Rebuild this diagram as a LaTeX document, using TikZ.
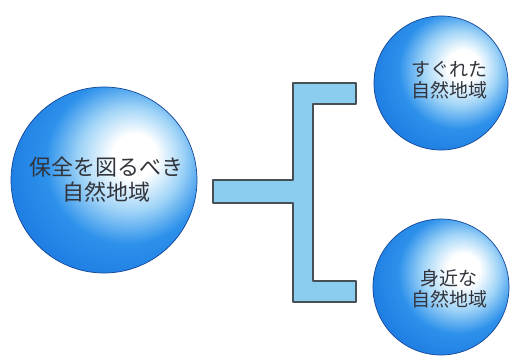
\documentclass[tikz,border=0pt]{standalone}
\usepackage{fontspec}
\newfontfamily\jpfont{Noto Sans CJK JP}
\definecolor{orblight}{RGB}{160,212,247}
\definecolor{orbblue}{RGB}{45,145,235}
\definecolor{orbmid}{RGB}{22,115,222}
\definecolor{orbdark}{RGB}{12,86,198}
\definecolor{orbrim}{RGB}{20,70,150}
\definecolor{barblue}{RGB}{138,205,238}
\definecolor{barline}{RGB}{70,80,85}
\definecolor{txtgray}{RGB}{50,52,60}
\pgfdeclareradialshading{orb}{\pgfpoint{9bp}{7bp}}{color(0bp)=(white); color(6bp)=(white); color(14bp)=(orblight); color(22bp)=(orbblue); color(36bp)=(orbmid); color(55bp)=(orbdark); color(70bp)=(orbdark)}
\begin{document}
\begin{tikzpicture}[x=1pt, y=-1pt, line join=round,
	orb/.style={circle, inner sep=0pt, shading=orb, draw=orbrim, line width=0.7pt},
	bigtxt/.style={align=center, text=txtgray, font=\jpfont\fontsize{22}{25}\selectfont},
	smalltxt/.style={align=center, text=txtgray, font=\jpfont\fontsize{19}{21}\selectfont}]
	\useasboundingbox (0,0) rectangle (510,358);
	\node[orb, minimum size=186pt] (big) at (104,180) {};
	\node[orb, minimum size=134pt] (good) at (441,83) {};
	\node[orb, minimum size=136pt] (near) at (441,287) {};
	\node[bigtxt] (bigtext) at ([xshift=2pt]big.center) {保全を図るべき\\自然地域};
	\node[smalltxt] (goodtext) at ([xshift=8pt,yshift=3pt]good.center) {すぐれた\\自然地域};
	\node[smalltxt] (neartext) at ([xshift=8pt,yshift=-2pt]near.center) {身近な\\自然地域};
	\draw[fill=barblue, draw=barline, line width=1.1pt]
		(293,83)--(356,83)--(356,104)--(313,104)--(313,281)--(356,281)--(356,302)
		--(293,302)--(293,203)--(213,203)--(213,180)--(293,180)--cycle;
\end{tikzpicture}
\end{document}
